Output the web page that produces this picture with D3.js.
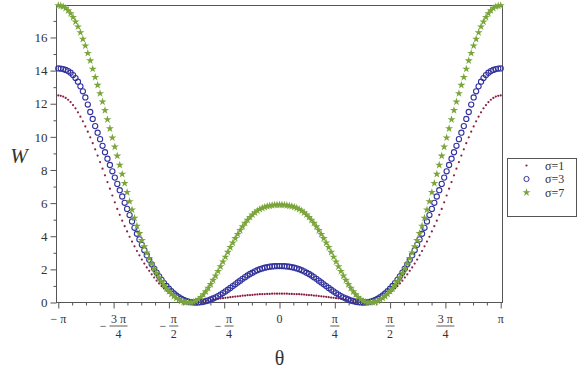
<!DOCTYPE html>
<html><head><meta charset="utf-8">
<script src="https://cdn.jsdelivr.net/npm/d3@7"></script>
<style>body{margin:0;background:#fff;} svg{display:block;} text{font-family:"Liberation Serif","Times New Roman",serif;}</style>
</head><body><svg id="c" width="581" height="375"></svg>
<script>
// sample angles (degrees), -180 .. 180 step 2
const thetaDeg = d3.range(-180, 181, 2);

const wSigma1 = [12.50,12.48,12.43,12.35,12.24,12.10,11.92,11.72,11.48,11.22,10.94,10.63,10.31,9.97,9.62,9.25,8.87,8.48,8.08,7.68,7.27,6.87,6.46,6.05,5.65,5.29,4.94,4.61,4.29,3.97,3.68,3.39,3.11,2.85,2.59,2.35,2.12,1.91,1.70,1.51,1.32,1.15,0.99,0.85,0.71,0.59,0.48,0.38,0.29,0.21,0.15,0.09,0.05,0.02,0.006,0.005,0.015,0.03,0.05,0.08,0.10,0.12,0.15,0.17,0.20,0.22,0.24,0.26,0.28,0.30,0.32,0.34,0.36,0.37,0.39,0.41,0.42,0.44,0.45,0.46,0.48,0.49,0.50,0.50,0.51,0.52,0.52,0.53,0.53,0.53,
0.53,
0.53,0.53,0.53,0.52,0.52,0.51,0.50,0.50,0.49,0.48,0.46,0.45,0.44,0.42,0.41,0.39,0.37,0.36,0.34,0.32,0.30,0.28,0.26,0.24,0.22,0.20,0.17,0.15,0.12,0.10,0.08,0.05,0.03,0.015,0.005,0.006,0.02,0.05,0.09,0.15,0.21,0.29,0.38,0.48,0.59,0.71,0.85,0.99,1.15,1.32,1.51,1.70,1.91,2.12,2.35,2.59,2.85,3.11,3.39,3.68,3.97,4.29,4.61,4.94,5.29,5.65,6.05,6.46,6.87,7.27,7.68,8.08,8.48,8.87,9.25,9.62,9.97,10.31,10.63,10.94,11.22,11.48,11.72,11.92,12.10,12.24,12.35,12.43,12.48,12.50];

const wSigma3 = [14.13,14.12,14.09,14.04,13.97,13.87,13.73,13.55,13.33,13.05,12.75,12.38,11.95,11.50,11.08,10.65,10.25,9.86,9.46,9.07,8.68,8.30,7.92,7.54,7.16,6.78,6.40,6.02,5.65,5.28,4.89,4.51,4.15,3.81,3.48,3.16,2.86,2.574,2.303,2.047,1.807,1.581,1.371,1.175,0.995,0.829,0.679,0.543,0.423,0.318,0.227,0.152,0.092,0.047,0.017,0.002,0.001,0.007,0.02,0.045,0.08,0.12,0.18,0.24,0.31,0.39,0.48,0.57,0.67,0.77,0.88,0.99,1.10,1.21,1.32,1.43,1.53,1.63,1.72,1.80,1.88,1.95,2.01,2.06,2.10,2.13,2.16,2.18,2.19,2.20,
2.20,
2.20,2.19,2.18,2.16,2.13,2.10,2.06,2.01,1.95,1.88,1.80,1.72,1.63,1.53,1.43,1.32,1.21,1.10,0.99,0.88,0.77,0.67,0.57,0.48,0.39,0.31,0.24,0.18,0.12,0.08,0.045,0.02,0.007,0.001,0.002,0.017,0.047,0.092,0.152,0.227,0.318,0.423,0.543,0.679,0.829,0.995,1.175,1.371,1.581,1.807,2.047,2.303,2.574,2.86,3.16,3.48,3.81,4.15,4.51,4.89,5.28,5.65,6.02,6.40,6.78,7.16,7.54,7.92,8.30,8.68,9.07,9.46,9.86,10.25,10.65,11.08,11.50,11.95,12.38,12.75,13.05,13.33,13.55,13.73,13.87,13.97,14.04,14.09,14.12,14.13];

const wSigma7 = [17.93,17.91,17.86,17.77,17.63,17.45,17.22,16.95,16.65,16.30,15.90,15.50,15.05,14.60,14.10,13.60,13.12,12.62,12.12,11.60,11.05,10.50,9.95,9.40,8.85,8.30,7.75,7.20,6.65,6.10,5.60,5.10,4.62,4.17,3.75,3.37,3.00,2.66,2.34,2.04,1.76,1.50,1.26,1.04,0.84,0.67,0.51,0.37,0.26,0.17,0.09,0.04,0.01,0.0,0.005,0.03,0.09,0.19,0.32,0.48,0.66,0.87,1.10,1.35,1.61,1.89,2.17,2.46,2.75,3.04,3.33,3.60,3.87,4.12,4.36,4.58,4.79,4.98,5.15,5.30,5.43,5.54,5.63,5.70,5.76,5.81,5.84,5.87,5.89,5.90,
5.90,
5.90,5.89,5.87,5.84,5.81,5.76,5.70,5.63,5.54,5.43,5.30,5.15,4.98,4.79,4.58,4.36,4.12,3.87,3.60,3.33,3.04,2.75,2.46,2.17,1.89,1.61,1.35,1.10,0.87,0.66,0.48,0.32,0.19,0.09,0.03,0.005,0.0,0.01,0.04,0.09,0.17,0.26,0.37,0.51,0.67,0.84,1.04,1.26,1.50,1.76,2.04,2.34,2.66,3.00,3.37,3.75,4.17,4.62,5.10,5.60,6.10,6.65,7.20,7.75,8.30,8.85,9.40,9.95,10.50,11.05,11.60,12.12,12.62,13.12,13.60,14.10,14.60,15.05,15.50,15.90,16.30,16.65,16.95,17.22,17.45,17.63,17.77,17.86,17.91,17.93];

const seriesNames = ["σ=1", "σ=3", "σ=7"];
const yMajorTicks = [0, 2, 4, 6, 8, 10, 12, 14, 16];
const yMinorTicks = [1, 3, 5, 7, 9, 11, 13, 15, 17];
const xTickQuarters = [-4, -3, -2, -1, 0, 1, 2, 3, 4];
const xTickSigns = ["−", "−", "−", "−", "", "", "", "", ""];
const xTickNumerators = ["π", "3 π", "π", "π", "0", "π", "π", "3 π", "π"];
const xTickDenominators = ["", "4", "2", "4", "", "4", "2", "4", ""];
const xTitle = "θ";
const yTitle = "W";

const colors = ["#8a1f3d", "#32329e", "#79a53a"];
const serif = "Liberation Serif";
const axisColor = "#555";
const textColor = "#333";

const svg = d3.select("#c");
svg.append("rect").attr("width", 581).attr("height", 375).attr("fill", "#fff");

const x = d3.scaleLinear().domain([-Math.PI, Math.PI]).range([58.3, 500.7]);
const y = d3.scaleLinear().domain([0, 17.93]).range([302.5, 5.5]);

// frame (top and right)
svg.append("path")
  .attr("d", `M56.5,5.5H502.5V302.5`)
  .attr("fill", "none").attr("stroke", axisColor).attr("stroke-width", 1);

// left axis
const gy = svg.append("g").attr("transform", "translate(56.5,0)");
gy.call(d3.axisLeft(y).tickValues(yMinorTicks).tickSize(3).tickFormat(""));
gy.call(g => g.select(".domain").remove());
const gy2 = svg.append("g").attr("transform", "translate(56.5,0)");
gy2.call(d3.axisLeft(y).tickValues(yMajorTicks).tickSize(6).tickPadding(3).tickFormat(d3.format("d")));
gy2.select(".domain").remove();
gy2.attr("font-family", null);
svg.selectAll(".tick line").attr("stroke", axisColor);
gy2.selectAll("text").style("font-family", serif).attr("font-size", 13).attr("fill", textColor);
svg.append("line").attr("x1", 56.5).attr("x2", 56.5).attr("y1", 5.5).attr("y2", 303)
  .attr("stroke", axisColor);

// bottom axis
const xMinor = d3.range(-16, 17).filter(k => k % 4 !== 0).map(k => k * Math.PI / 16);
const gx = svg.append("g").attr("transform", "translate(0,302.5)");
gx.call(d3.axisBottom(x).tickValues(xMinor).tickSize(3).tickFormat(""));
gx.select(".domain").remove();
const gx2 = svg.append("g").attr("transform", "translate(0,302.5)");
gx2.call(d3.axisBottom(x).tickValues(xTickQuarters.map(q => q * Math.PI / 4)).tickSize(6).tickFormat(""));
gx2.select(".domain").remove();
svg.selectAll(".tick line").attr("stroke", axisColor);
svg.append("line").attr("x1", 56).attr("x2", 503).attr("y1", 302.5).attr("y2", 302.5)
  .attr("stroke", axisColor);

// x tick labels (fractions)
const labG = svg.append("g").style("font-family", serif).attr("font-size", 12).attr("fill", textColor);
xTickQuarters.forEach((q, i) => {
  const cx = x(q * Math.PI / 4);
  const g = labG.append("g");
  const sign = xTickSigns[i], num = xTickNumerators[i], den = xTickDenominators[i];
  if (!den) {
    const t = g.append("text").attr("y", 323).text(sign ? sign + " " + num : num);
    const w = t.node().getComputedTextLength();
    t.attr("x", cx - w / 2);
  } else {
    const tn = g.append("text").attr("y", 323).attr("text-anchor", "middle").text(num);
    const td = g.append("text").attr("y", 337.5).attr("text-anchor", "middle").text(den);
    const barW = Math.max(tn.node().getComputedTextLength(), td.node().getComputedTextLength()) + 3;
    let signW = 0, ts = null;
    if (sign) { ts = g.append("text").attr("y", 329.5).text(sign); signW = ts.node().getComputedTextLength() + 3; }
    const left = cx - (signW + barW) / 2;
    if (ts) ts.attr("x", left);
    const bx = left + signW;
    tn.attr("x", bx + barW / 2);
    td.attr("x", bx + barW / 2);
    g.append("line").attr("x1", bx).attr("x2", bx + barW).attr("y1", 326).attr("y2", 326)
      .attr("stroke", textColor).attr("stroke-width", 0.8);
  }
});

// axis titles
svg.append("text").attr("x", 19).attr("y", 163).attr("text-anchor", "middle")
  .style("font-family", serif).attr("font-style", "italic").attr("font-size", 21)
  .attr("fill", textColor).text(yTitle);
svg.append("text").attr("x", 279.5).attr("y", 365).attr("text-anchor", "middle")
  .style("font-family", serif).attr("font-size", 20)
  .attr("fill", textColor).text(xTitle);

// data
const rad = d => d * Math.PI / 180;
const pts = (arr) => thetaDeg.map((t, i) => [x(rad(t)), y(arr[i])]);

svg.append("g").selectAll("circle").data(pts(wSigma1)).join("circle")
  .attr("cx", d => d[0]).attr("cy", d => d[1]).attr("r", 1.1).attr("fill", colors[0]);
svg.append("g").selectAll("circle").data(pts(wSigma3)).join("circle")
  .attr("cx", d => d[0]).attr("cy", d => d[1]).attr("r", 2.6)
  .attr("fill", "none").attr("stroke", colors[1]).attr("stroke-width", 1.1);
const star = d3.symbol(d3.symbolStar, 20);
svg.append("g").selectAll("path").data(pts(wSigma7)).join("path")
  .attr("transform", d => `translate(${d[0]},${d[1]})`).attr("d", star).attr("fill", colors[2]);

// legend
const lg = svg.append("g");
lg.append("rect").attr("x", 507.5).attr("y", 158.5).attr("width", 69).attr("height", 58)
  .attr("fill", "#fff").attr("stroke", axisColor);
const ly = [165.5, 179, 192.5];
seriesNames.forEach((n, i) => {
  const mx = 526.5;
  if (i === 0) lg.append("circle").attr("cx", mx).attr("cy", ly[i]).attr("r", 1.1).attr("fill", colors[0]);
  if (i === 1) lg.append("circle").attr("cx", mx).attr("cy", ly[i]).attr("r", 2.6).attr("fill", "none").attr("stroke", colors[1]);
  if (i === 2) lg.append("path").attr("transform", `translate(${mx},${ly[i]})`).attr("d", star).attr("fill", colors[2]);
  lg.append("text").attr("x", 545).attr("y", ly[i] + 4).style("font-family", serif).attr("font-size", 12)
    .attr("fill", textColor).text(n);
});
</script></body></html>
